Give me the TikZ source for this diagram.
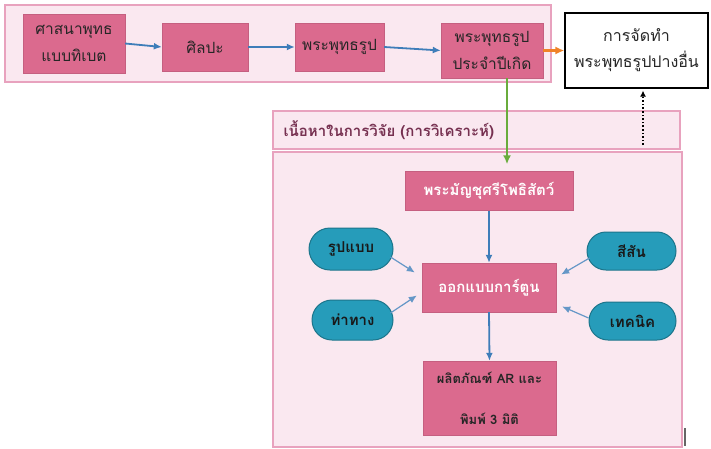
\documentclass[tikz,border=0pt]{standalone}
\usepackage{fontspec}
\newfontfamily\thaifont[Script=Thai]{Loma}
\usepackage{tikz}
\usetikzlibrary{shapes.geometric, shapes.misc, arrows.meta}
\usetikzlibrary{calc}
\definecolor{boxpink}{RGB}{219,106,142}
\definecolor{bgpink}{RGB}{250,232,240}
\definecolor{linepink}{RGB}{232,162,190}
\definecolor{pillteal}{RGB}{38,156,186}
\definecolor{arrowblue}{RGB}{62,125,185}
\definecolor{arroworange}{RGB}{240,130,40}
\definecolor{arrowgreen}{RGB}{105,172,60}
\definecolor{titlemaroon}{RGB}{118,48,80}

\tikzset{
    pinkbox/.style={rectangle, fill=boxpink, draw=boxpink!90!black, line width=0.4pt,
        align=center, inner sep=2pt, text=black!85,
        font=\thaifont\fontsize{15.5}{27}\selectfont},
    pillbox/.style={rounded rectangle, fill=pillteal, draw=pillteal!75!black, line width=1pt,
        text=black!90, inner sep=2pt, font=\thaifont\bfseries\fontsize{15}{18}\selectfont},
    flow/.style={-{Latex[length=8pt,width=7pt]}, line width=1.8pt, draw=arrowblue},
    side/.style={-{Latex[length=8pt,width=7pt]}, line width=1.2pt, draw=arrowblue!80},
    panel/.style={fill=bgpink, draw=linepink, line width=1.2pt},
}

\begin{document}
\begin{tikzpicture}[x=1pt,y=-1pt]
    \useasboundingbox (0,0) rectangle (711,448);

    % Top strip
    \draw[panel] (5,5) rectangle (551,82);
    \node (tibet) [pinkbox, minimum width=102pt, minimum height=59pt] at (74,43.5)
        {ศาสนาพุทธ\\แบบทิเบต};
    \node (art) [pinkbox, minimum width=86pt, minimum height=48pt] at (205,47) {ศิลปะ};
    \node (buddha) [pinkbox, minimum width=89pt, minimum height=48pt] at (339.5,47) {พระพุทธรูป};
    \node (birth) [pinkbox, minimum width=102pt, minimum height=55pt] at (492,50.5)
        {พระพุทธรูป\\ประจำปีเกิด};
    \node (other) [rectangle, draw=black, line width=1.2pt, fill=white, align=center,
        minimum width=143pt, minimum height=75pt, text=black!85,
        font=\thaifont\fontsize{16}{26}\selectfont] at (636.5,50.5)
        {การจัดทำ\\พระพุทธรูปปางอื่น};

    \draw[flow] (tibet.east) -- (art.west);
    \draw[flow] (art.east) -- (buddha.west);
    \draw[flow] (buddha.east) -- (birth.west);
    \draw[-{Latex[length=9pt,width=8pt]}, line width=2.6pt, draw=arroworange]
        (birth.east) -- (other.west);

    % Research content
    \draw[panel] (273,111) rectangle (680,149);
    \node (title) [anchor=west, text=titlemaroon, font=\thaifont\bfseries\fontsize{15}{18}\selectfont]
        at (280,130) {เนื้อหาในการวิจัย (การวิเคราะห์)};
    \draw[panel] (273,152) rectangle (682,447);

    \node (manju) [pinkbox, text=white, font=\thaifont\bfseries\fontsize{15}{18}\selectfont,
        minimum width=168pt, minimum height=39pt] at (489,191) {พระมัญชุศรีโพธิสัตว์};
    \node (cartoon) [pinkbox, text=white, font=\thaifont\bfseries\fontsize{15}{18}\selectfont,
        minimum width=134pt, minimum height=49pt] at (489,287.5) {ออกแบบการ์ตูน};
    \node (product) [pinkbox, font=\thaifont\bfseries\fontsize{13}{41}\selectfont,
        minimum width=133pt, minimum height=74pt] at (489.5,398) {ผลิตภัณฑ์ AR และ\\พิมพ์ 3 มิติ};

    \node (form) [pillbox, minimum width=88pt, minimum height=42pt] at (351,249) {รูปแบบ};
    \node (pose) [pillbox, minimum width=85pt, minimum height=40pt] at (352.5,320) {ท่าทาง};
    \node (colour) [pillbox, minimum width=93pt, minimum height=38pt] at (631.5,251) {สีสัน};
    \node (technique) [pillbox, minimum width=91pt, minimum height=38pt] at (632.5,321) {เทคนิค};

    \draw[flow] (manju.south) -- (cartoon.north);
    \draw[flow] (cartoon.south) -- (product.north);
    \draw[side] ($(form.east)+(-3,8)$) -- ($(cartoon.west)+(-7,-15)$);
    \draw[side] ($(pose.east)+(-3,-7)$) -- ($(cartoon.west)+(-5,8)$);
    \draw[side] ($(colour.west)+(3,7)$) -- ($(cartoon.east)+(5,-13)$);
    \draw[side] ($(technique.west)+(0,-3)$) -- ($(cartoon.east)+(6,19)$);

    % Links between strip and content
    \coordinate (greentop) at ($(birth.south)+(15,0)$);
    \draw[-{Latex[length=9pt,width=8pt]}, line width=2.6pt, draw=arrowgreen, shorten >=7pt]
        (greentop) -- (greentop |- manju.north);
    \coordinate (dotbase) at (643,145);
    \draw[-{Latex[length=6pt,width=6pt]}, line width=1.6pt, dotted, shorten >=2pt]
        (dotbase) -- (dotbase |- other.south);
    \draw[black!60, line width=1.2pt] (685,428) -- (685,446);
\end{tikzpicture}
\end{document}
